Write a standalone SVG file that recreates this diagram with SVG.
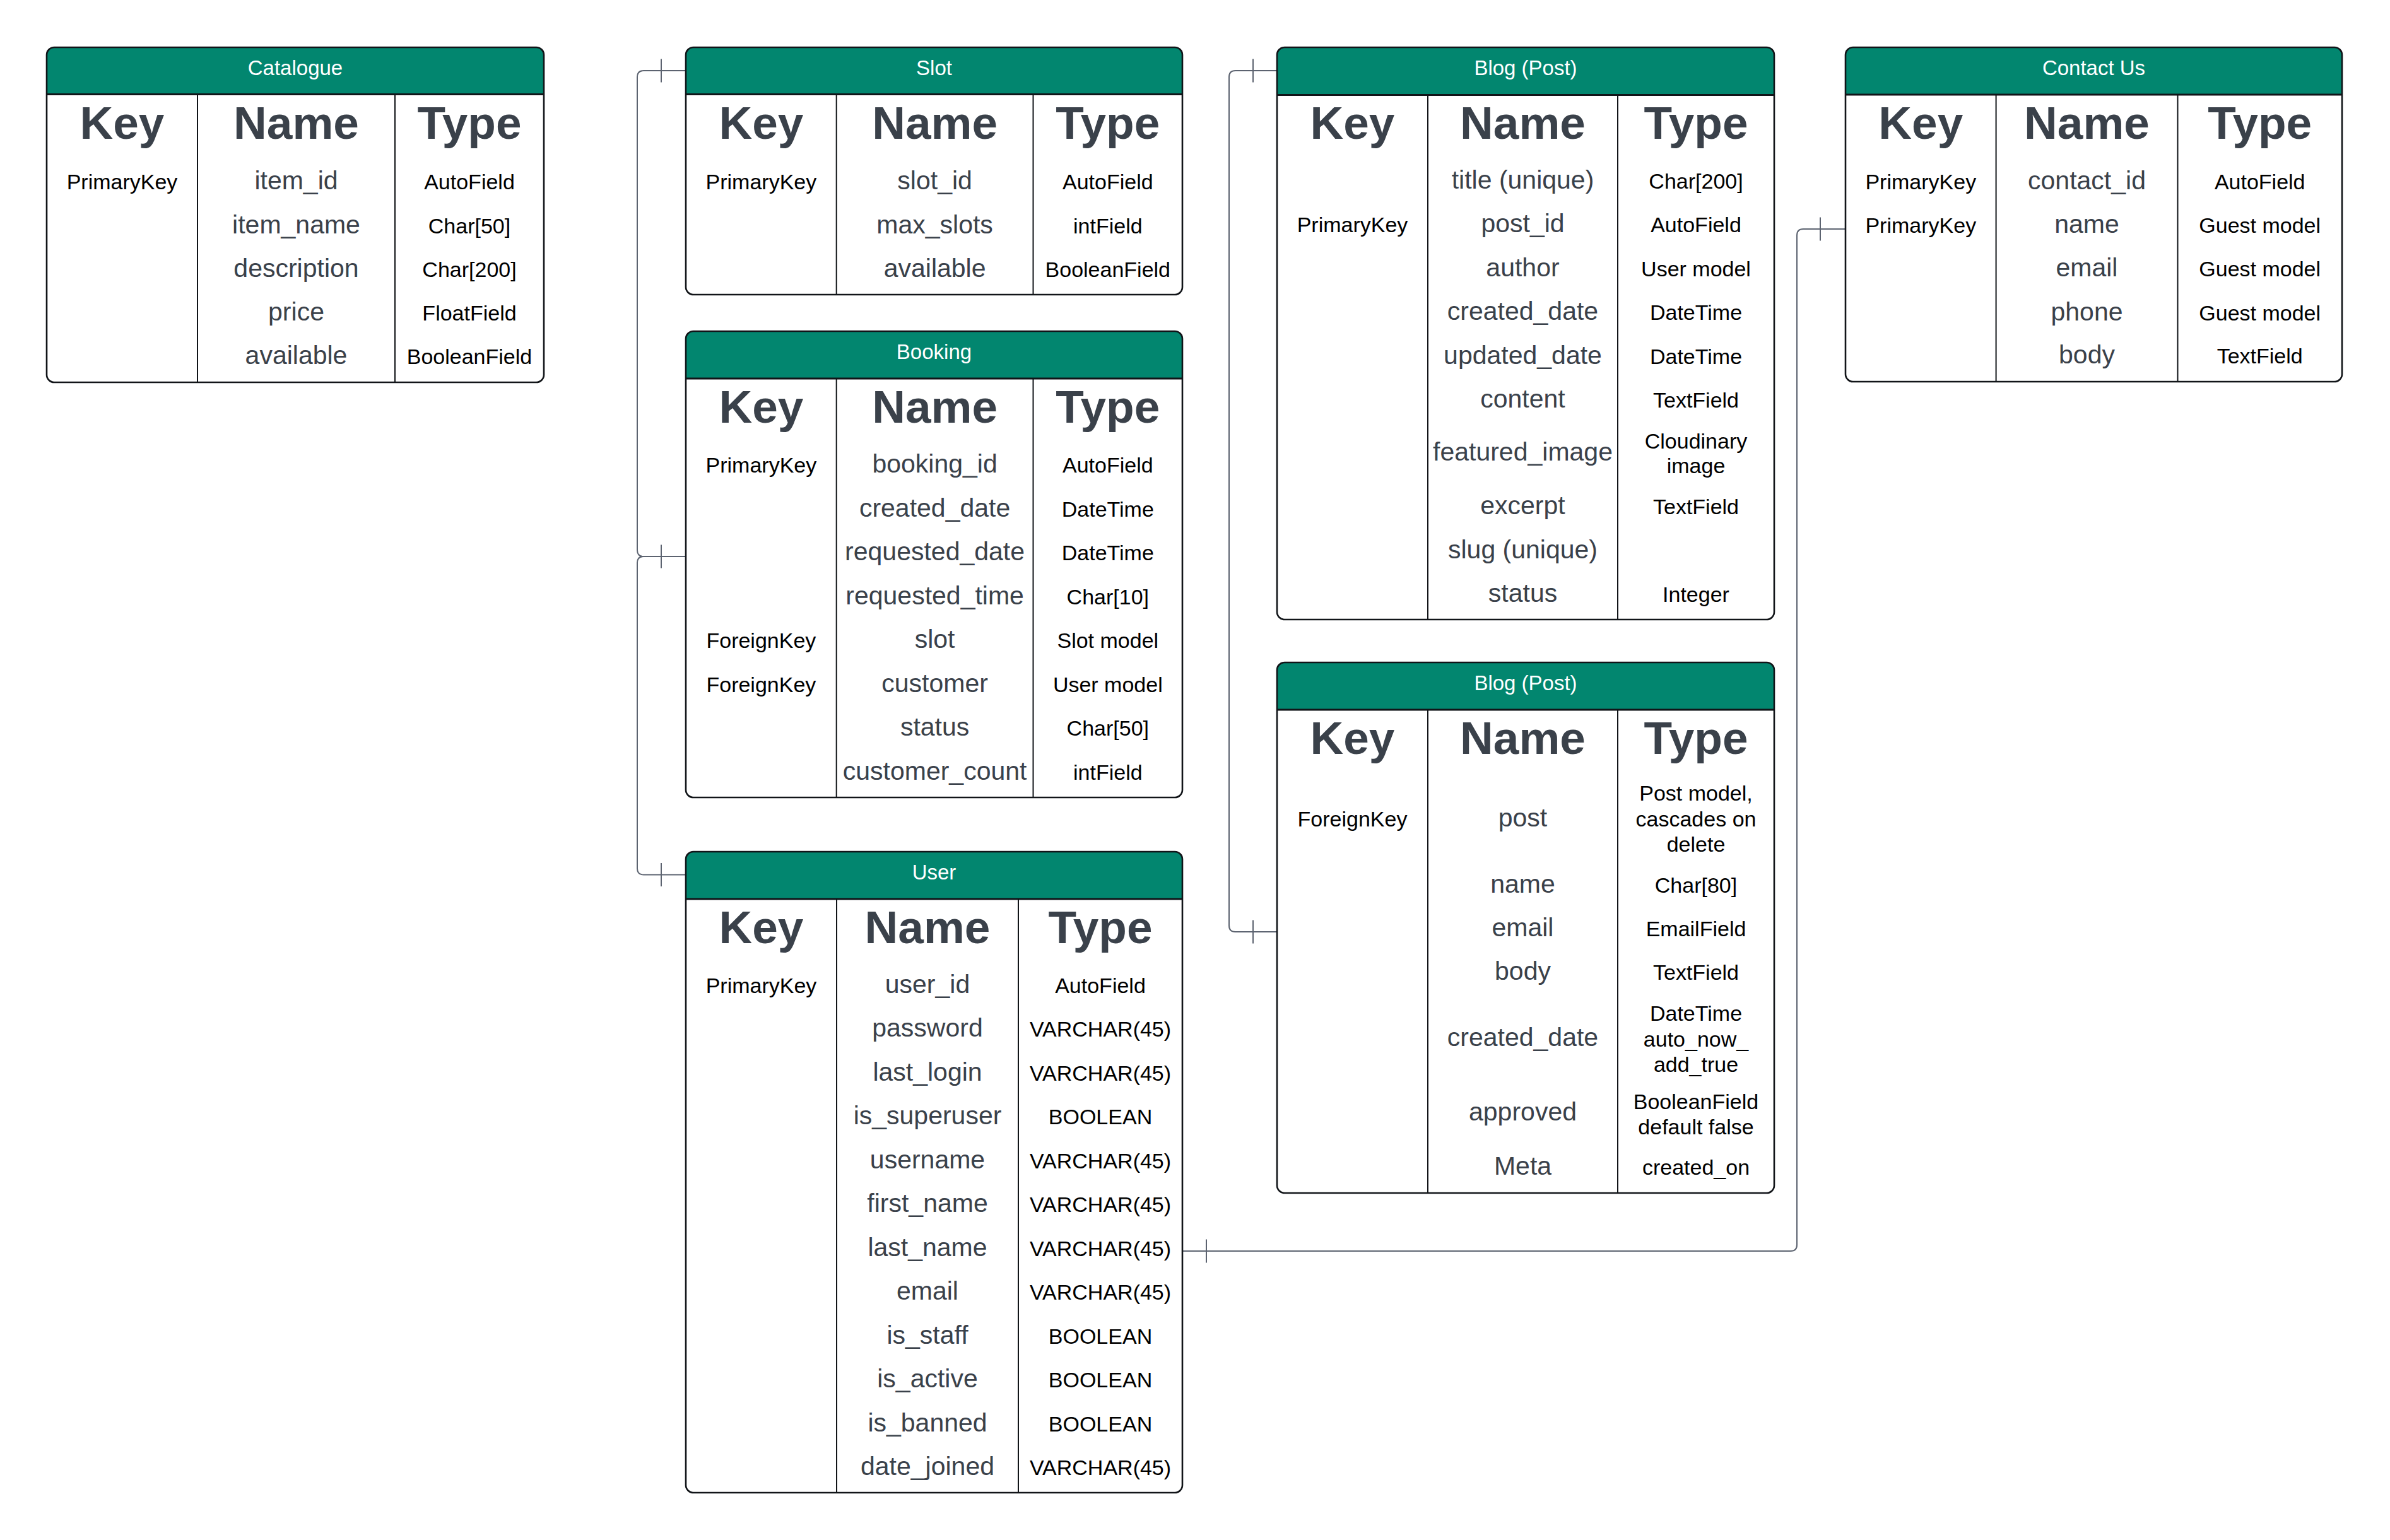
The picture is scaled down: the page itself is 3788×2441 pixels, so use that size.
<svg xmlns="http://www.w3.org/2000/svg" width="3788" height="2441" viewBox="0 0 3788 2441">
<style>
.bg{fill:#ffffff;stroke:none}
.hd{fill:#02866f;stroke:none}
.ol{fill:none;stroke:#111418;stroke-width:2.6}
.ln{stroke:#111418;stroke-width:3;fill:none}
.cl{stroke:#111418;stroke-width:2;fill:none}
text{font-family:"Liberation Sans",Arial,sans-serif;text-anchor:middle}
.t{font-size:33px;fill:#ffffff;transform:translate(0px,-2px)}
.h{font-size:73px;font-weight:bold;fill:#3a414a}
.k{font-size:34px;fill:#000000;transform:translate(0px,-3px)}
.n{font-size:41px;fill:#3a414a;transform:translate(0px,-3px)}
.y{font-size:34px;fill:#000000;transform:translate(0px,-3px)}
.cn{fill:none;stroke:#5c6370;stroke-width:2}
</style>
<rect width="3788" height="2441" fill="#ffffff"/>

<g id="connectors">
<path class="cn" d="M1087,112 H1020 Q1010,112 1010,122 V872 Q1010,882 1020,882 H1087"/>
<path class="cn" d="M1087,882 H1020 Q1010,882 1010,892 V1376.5 Q1010,1386.5 1020,1386.5 H1087"/>
<path class="cn" d="M1048,93.5 V130.5 M1048,863.5 V900.5 M1048,1368 V1405"/>
<path class="cn" d="M2024,112 H1958 Q1948,112 1948,122 V1467 Q1948,1477 1958,1477 H2024"/>
<path class="cn" d="M1986,93.5 V130.5 M1986,1458.5 V1495.5"/>
<path class="cn" d="M1874,1983 H2838 Q2848,1983 2848,1973 V373 Q2848,363 2858,363 H2925"/>
<path class="cn" d="M1912,1964.5 V2001.5 M2885,344.5 V381.5"/>
</g>

<g id="catalogue">
<rect class="bg" x="74" y="75" width="788" height="531" rx="12"/>
<path class="hd" d="M74,149.5 V87 Q74,75 86,75 H850 Q862,75 862,87 V149.5 Z"/>
<rect class="ol" x="74" y="75" width="788" height="531" rx="12"/>
<path class="ln" d="M74,149.5 H862"/>
<path class="cl" d="M313,149.5 V606 M626,149.5 V606"/>
<text class="t" x="468" y="121">Catalogue</text>
<text class="h" x="193.5" y="220">Key</text>
<text class="h" x="469.5" y="220">Name</text>
<text class="h" x="744" y="220">Type</text>
<text class="k" x="193.5" y="303">PrimaryKey</text>
<text class="n" x="469.5" y="303">item_id</text>
<text class="y" x="744" y="303">AutoField</text>
<text class="n" x="469.5" y="373">item_name</text>
<text class="y" x="744" y="373">Char[50]</text>
<text class="n" x="469.5" y="442">description</text>
<text class="y" x="744" y="442">Char[200]</text>
<text class="n" x="469.5" y="511">price</text>
<text class="y" x="744" y="511">FloatField</text>
<text class="n" x="469.5" y="580">available</text>
<text class="y" x="744" y="580">BooleanField</text>
</g>

<g id="slot">
<rect class="bg" x="1087" y="75" width="787" height="392" rx="12"/>
<path class="hd" d="M1087,149.5 V87 Q1087,75 1099,75 H1862 Q1874,75 1874,87 V149.5 Z"/>
<rect class="ol" x="1087" y="75" width="787" height="392" rx="12"/>
<path class="ln" d="M1087,149.5 H1874"/>
<path class="cl" d="M1325.7,149.5 V467 M1637.5,149.5 V467"/>
<text class="t" x="1480.5" y="121">Slot</text>
<text class="h" x="1206.4" y="220">Key</text>
<text class="h" x="1481.6" y="220">Name</text>
<text class="h" x="1755.8" y="220">Type</text>
<text class="k" x="1206.4" y="303">PrimaryKey</text>
<text class="n" x="1481.6" y="303">slot_id</text>
<text class="y" x="1755.8" y="303">AutoField</text>
<text class="n" x="1481.6" y="373">max_slots</text>
<text class="y" x="1755.8" y="373">intField</text>
<text class="n" x="1481.6" y="442">available</text>
<text class="y" x="1755.8" y="442">BooleanField</text>
</g>

<g id="booking">
<rect class="bg" x="1087" y="525" width="787" height="739" rx="12"/>
<path class="hd" d="M1087,600 V537 Q1087,525 1099,525 H1862 Q1874,525 1874,537 V600 Z"/>
<rect class="ol" x="1087" y="525" width="787" height="739" rx="12"/>
<path class="ln" d="M1087,600 H1874"/>
<path class="cl" d="M1325.7,600 V1264 M1637.5,600 V1264"/>
<text class="t" x="1480.5" y="571">Booking</text>
<text class="h" x="1206.4" y="670">Key</text>
<text class="h" x="1481.6" y="670">Name</text>
<text class="h" x="1755.8" y="670">Type</text>
<text class="k" x="1206.4" y="752">PrimaryKey</text>
<text class="n" x="1481.6" y="752">booking_id</text>
<text class="y" x="1755.8" y="752">AutoField</text>
<text class="n" x="1481.6" y="821.5">created_date</text>
<text class="y" x="1755.8" y="821.5">DateTime</text>
<text class="n" x="1481.6" y="891">requested_date</text>
<text class="y" x="1755.8" y="891">DateTime</text>
<text class="n" x="1481.6" y="960.5">requested_time</text>
<text class="y" x="1755.8" y="960.5">Char[10]</text>
<text class="k" x="1206.4" y="1030">ForeignKey</text>
<text class="n" x="1481.6" y="1030">slot</text>
<text class="y" x="1755.8" y="1030">Slot model</text>
<text class="k" x="1206.4" y="1099.5">ForeignKey</text>
<text class="n" x="1481.6" y="1099.5">customer</text>
<text class="y" x="1755.8" y="1099.5">User model</text>
<text class="n" x="1481.6" y="1169">status</text>
<text class="y" x="1755.8" y="1169">Char[50]</text>
<text class="n" x="1481.6" y="1238.5">customer_count</text>
<text class="y" x="1755.8" y="1238.5">intField</text>
</g>

<g id="user">
<rect class="bg" x="1087" y="1350" width="787" height="1016" rx="12"/>
<path class="hd" d="M1087,1425 V1362 Q1087,1350 1099,1350 H1862 Q1874,1350 1874,1362 V1425 Z"/>
<rect class="ol" x="1087" y="1350" width="787" height="1016" rx="12"/>
<path class="ln" d="M1087,1425 H1874"/>
<path class="cl" d="M1326,1425 V2366 M1614,1425 V2366"/>
<text class="t" x="1480.5" y="1396">User</text>
<text class="h" x="1206.5" y="1495">Key</text>
<text class="h" x="1470" y="1495">Name</text>
<text class="h" x="1744" y="1495">Type</text>
<text class="k" x="1206.5" y="1576.6">PrimaryKey</text>
<text class="n" x="1470" y="1576.6">user_id</text>
<text class="y" x="1744" y="1576.6">AutoField</text>
<text class="n" x="1470" y="1646.1">password</text>
<text class="y" x="1744" y="1646.1">VARCHAR(45)</text>
<text class="n" x="1470" y="1715.6">last_login</text>
<text class="y" x="1744" y="1715.6">VARCHAR(45)</text>
<text class="n" x="1470" y="1785.1">is_superuser</text>
<text class="y" x="1744" y="1785.1">BOOLEAN</text>
<text class="n" x="1470" y="1854.6">username</text>
<text class="y" x="1744" y="1854.6">VARCHAR(45)</text>
<text class="n" x="1470" y="1924.1">first_name</text>
<text class="y" x="1744" y="1924.1">VARCHAR(45)</text>
<text class="n" x="1470" y="1993.6">last_name</text>
<text class="y" x="1744" y="1993.6">VARCHAR(45)</text>
<text class="n" x="1470" y="2063.1">email</text>
<text class="y" x="1744" y="2063.1">VARCHAR(45)</text>
<text class="n" x="1470" y="2132.6">is_staff</text>
<text class="y" x="1744" y="2132.6">BOOLEAN</text>
<text class="n" x="1470" y="2202.1">is_active</text>
<text class="y" x="1744" y="2202.1">BOOLEAN</text>
<text class="n" x="1470" y="2271.6">is_banned</text>
<text class="y" x="1744" y="2271.6">BOOLEAN</text>
<text class="n" x="1470" y="2341.1">date_joined</text>
<text class="y" x="1744" y="2341.1">VARCHAR(45)</text>
</g>

<g id="blog-post">
<rect class="bg" x="2024" y="75" width="788" height="907" rx="12"/>
<path class="hd" d="M2024,150.5 V87 Q2024,75 2036,75 H2800 Q2812,75 2812,87 V150.5 Z"/>
<rect class="ol" x="2024" y="75" width="788" height="907" rx="12"/>
<path class="ln" d="M2024,150.5 H2812"/>
<path class="cl" d="M2263,150.5 V982 M2564,150.5 V982"/>
<text class="t" x="2418" y="121">Blog (Post)</text>
<text class="h" x="2143.5" y="220">Key</text>
<text class="h" x="2413.5" y="220">Name</text>
<text class="h" x="2688" y="220">Type</text>
<text class="n" x="2413.5" y="302.3">title (unique)</text>
<text class="y" x="2688" y="302.3">Char[200]</text>
<text class="k" x="2143.5" y="371">PrimaryKey</text>
<text class="n" x="2413.5" y="371">post_id</text>
<text class="y" x="2688" y="371">AutoField</text>
<text class="n" x="2413.5" y="440.7">author</text>
<text class="y" x="2688" y="440.7">User model</text>
<text class="n" x="2413.5" y="510">created_date</text>
<text class="y" x="2688" y="510">DateTime</text>
<text class="n" x="2413.5" y="579.7">updated_date</text>
<text class="y" x="2688" y="579.7">DateTime</text>
<text class="n" x="2413.5" y="649.2">content</text>
<text class="y" x="2688" y="649.2">TextField</text>
<text class="n" x="2413.5" y="733.4">featured_image</text>
<text class="y" x="2688" y="713.7">Cloudinary</text>
<text class="y" x="2688" y="753.2">image</text>
<text class="n" x="2413.5" y="817.6">excerpt</text>
<text class="y" x="2688" y="817.6">TextField</text>
<text class="n" x="2413.5" y="887.7">slug (unique)</text>
<text class="n" x="2413.5" y="956.6">status</text>
<text class="y" x="2688" y="956.6">Integer</text>
</g>

<g id="blog-comment">
<rect class="bg" x="2024" y="1050" width="788" height="841" rx="12"/>
<path class="hd" d="M2024,1125 V1062 Q2024,1050 2036,1050 H2800 Q2812,1050 2812,1062 V1125 Z"/>
<rect class="ol" x="2024" y="1050" width="788" height="841" rx="12"/>
<path class="ln" d="M2024,1125 H2812"/>
<path class="cl" d="M2263,1125 V1891 M2564,1125 V1891"/>
<text class="t" x="2418" y="1096">Blog (Post)</text>
<text class="h" x="2143.5" y="1195">Key</text>
<text class="h" x="2413.5" y="1195">Name</text>
<text class="h" x="2688" y="1195">Type</text>
<text class="k" x="2143.5" y="1312.5">ForeignKey</text>
<text class="n" x="2413.5" y="1312.5">post</text>
<text class="y" x="2688" y="1272.3">Post model,</text>
<text class="y" x="2688" y="1312.5">cascades on</text>
<text class="y" x="2688" y="1352.6">delete</text>
<text class="n" x="2413.5" y="1417.7">name</text>
<text class="y" x="2688" y="1417.7">Char[80]</text>
<text class="n" x="2413.5" y="1486.6">email</text>
<text class="y" x="2688" y="1486.6">EmailField</text>
<text class="n" x="2413.5" y="1556">body</text>
<text class="y" x="2688" y="1556">TextField</text>
<text class="n" x="2413.5" y="1660.7">created_date</text>
<text class="y" x="2688" y="1621">DateTime</text>
<text class="y" x="2688" y="1662">auto_now_</text>
<text class="y" x="2688" y="1702">add_true</text>
<text class="n" x="2413.5" y="1779.3">approved</text>
<text class="y" x="2688" y="1761.4">BooleanField</text>
<text class="y" x="2688" y="1801">default false</text>
<text class="n" x="2413.5" y="1865.4">Meta</text>
<text class="y" x="2688" y="1865.4">created_on</text>
</g>

<g id="contact-us">
<rect class="bg" x="2925" y="75" width="787" height="530" rx="12"/>
<path class="hd" d="M2925,150 V87 Q2925,75 2937,75 H3700 Q3712,75 3712,87 V150 Z"/>
<rect class="ol" x="2925" y="75" width="787" height="530" rx="12"/>
<path class="ln" d="M2925,150 H3712"/>
<path class="cl" d="M3163.6,150 V605 M3451.5,150 V605"/>
<text class="t" x="3318.5" y="121">Contact Us</text>
<text class="h" x="3044.3" y="220">Key</text>
<text class="h" x="3307.5" y="220">Name</text>
<text class="h" x="3581.7" y="220">Type</text>
<text class="k" x="3044.3" y="302.6">PrimaryKey</text>
<text class="n" x="3307.5" y="302.6">contact_id</text>
<text class="y" x="3581.7" y="302.6">AutoField</text>
<text class="k" x="3044.3" y="372">PrimaryKey</text>
<text class="n" x="3307.5" y="372">name</text>
<text class="y" x="3581.7" y="372">Guest model</text>
<text class="n" x="3307.5" y="441">email</text>
<text class="y" x="3581.7" y="441">Guest model</text>
<text class="n" x="3307.5" y="510.5">phone</text>
<text class="y" x="3581.7" y="510.5">Guest model</text>
<text class="n" x="3307.5" y="579.2">body</text>
<text class="y" x="3581.7" y="579.2">TextField</text>
</g>
</svg>
